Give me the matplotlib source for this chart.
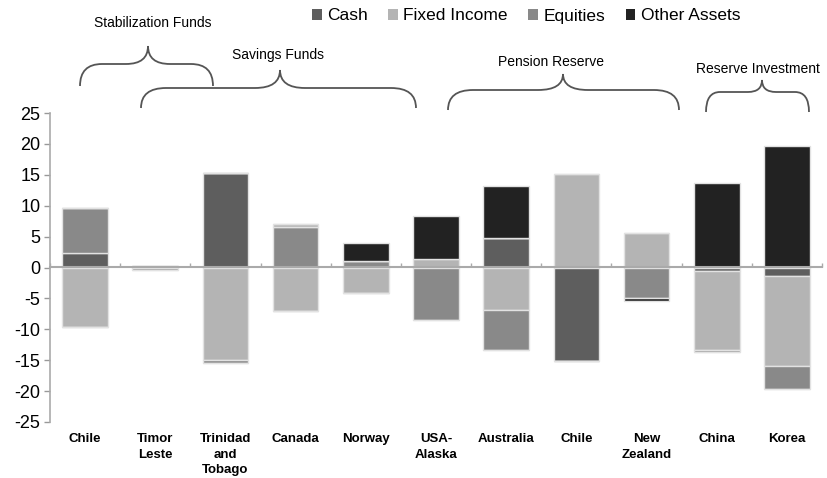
import matplotlib
matplotlib.use("Agg")
import matplotlib.pyplot as plt
import numpy as np
from matplotlib.patches import Patch, PathPatch
from matplotlib.path import Path

categories = ["Chile", "Timor\nLeste", "Trinidad\nand\nTobago", "Canada", "Norway",
              "USA-\nAlaska", "Australia", "Chile", "New\nZealand", "China", "Korea"]

# positive parts (stacked upward in order: Cash, Equities, Fixed Income, Other)
cash_pos     = [2.4, 0.2, 15.3, 0.0, 0.0, 0.0, 4.8, 0.0, 0.0, 0.0, 0.0]
equities_pos = [7.3, 0.0, 0.0, 6.5, 1.1, 0.0, 0.0, 0.0, 0.0, 0.0, 0.0]
fixed_pos    = [0.0, 0.0, 0.0, 0.5, 0.0, 1.3, 0.0, 15.2, 5.6, 0.0, 0.0]
other_pos    = [0.0, 0.0, 0.0, 0.0, 2.8, 7.1, 8.4, 0.0, 0.0, 13.6, 19.7]
# negative parts (stacked downward in order: Cash, Fixed Income, Equities, Other)
cash_neg     = [0.0, 0.0, 0.0, 0.0, 0.0, 0.0, 0.0, -15.2, 0.0, -0.5, -1.3]
fixed_neg    = [-9.7, 0.0, -14.9, -7.0, -4.1, 0.0, -6.9, 0.0, 0.0, -12.8, -14.6]
equities_neg = [0.0, -0.4, -0.5, 0.0, 0.0, -8.5, -6.4, 0.0, -5.0, -0.4, -3.8]
other_neg    = [0.0, 0.0, 0.0, 0.0, 0.0, 0.0, 0.0, 0.0, -0.5, 0.0, 0.0]

series_names = ["Cash", "Fixed Income", "Equities", "Other Assets"]
colors = {"Cash": "#5e5e5e", "Fixed Income": "#b4b4b4", "Equities": "#898989", "Other Assets": "#222222"}
yticks = [25, 20, 15, 10, 5, 0, -5, -10, -15, -20, -25]

group_labels = ["Stabilization Funds", "Savings Funds", "Pension Reserve", "Reserve Investment"]

W, H = 827, 478
fig = plt.figure(figsize=(W / 100, H / 100), dpi=100)
ax = fig.add_axes([50 / W, 1 - 422 / H, 772 / W, 309 / H])

x = np.arange(len(categories))
bw = 0.65
ec = "#e2e2e2"

bottom = np.zeros(len(x))
for name, vals in [("Cash", cash_pos), ("Equities", equities_pos),
                   ("Fixed Income", fixed_pos), ("Other Assets", other_pos)]:
    v = np.array(vals)
    ax.bar(x, v, bw, bottom=bottom, color=colors[name], edgecolor=ec, linewidth=1.0, zorder=2)
    bottom += v

bottom = np.zeros(len(x))
for name, vals in [("Cash", cash_neg), ("Fixed Income", fixed_neg),
                   ("Equities", equities_neg), ("Other Assets", other_neg)]:
    v = np.array(vals)
    ax.bar(x, v, bw, bottom=bottom, color=colors[name], edgecolor=ec, linewidth=1.0, zorder=2)
    bottom += v

ax.set_xlim(-0.5, len(x) - 0.5)
ax.set_ylim(-25, 25)
ax.set_yticks(yticks)
ax.set_yticklabels([str(t) for t in yticks], fontsize=13, family=["Liberation Sans", "DejaVu Sans"])
ax.tick_params(axis="y", length=4, color="#999999", width=1, pad=3)

for s in ["top", "right", "bottom"]:
    ax.spines[s].set_visible(False)
ax.spines["left"].set_color("#aaaaaa")
ax.spines["left"].set_linewidth(1.2)

ax.set_xticks(x)
ax.set_xticklabels(categories, fontsize=9.5, fontweight="bold",
                   family=["Liberation Sans", "DejaVu Sans"],
                   linespacing=1.4, va="top")
ax.tick_params(axis="x", length=0, pad=8)

# zero axis with boundary ticks
sec = ax.secondary_xaxis(0.5)
sec.set_xticks(np.arange(len(x) + 1) - 0.5)
sec.set_xticklabels([])
sec.tick_params(axis="x", length=3, color="#aaaaaa", width=1, direction="out")
for sp in sec.spines.values():
    sp.set_color("#aaaaaa")
    sp.set_linewidth(1.5)
sec.set_zorder(3)

# legend
narrow = ["Liberation Sans", "DejaVu Sans"]
handles = [Patch(facecolor=colors[n], edgecolor="none") for n in series_names]
fig.legend(handles, series_names, loc="center", bbox_to_anchor=(526 / W, 1 - 16 / H),
           ncol=4, frameon=False, handlelength=0.55, handleheight=0.55,
           handletextpad=0.3, columnspacing=1.2,
           prop={"family": narrow, "size": 12.5})

# group braces (figure pixel coordinates)
def brace(x0, x1, xc, yb, ym, yt, q):
    def P(px, py):
        return (px / W, 1 - py / H)
    verts = [P(x0, yb), P(x0, ym), P(x0 + q, ym), P(xc - q, ym), P(xc, ym), P(xc, yt),
             P(xc, ym), P(xc + q, ym), P(x1 - q, ym), P(x1, ym), P(x1, yb)]
    codes = [Path.MOVETO, Path.CURVE3, Path.CURVE3, Path.LINETO, Path.CURVE3, Path.CURVE3,
             Path.CURVE3, Path.CURVE3, Path.LINETO, Path.CURVE3, Path.CURVE3]
    patch = PathPatch(Path(verts, codes), transform=fig.transFigure, fill=False,
                      edgecolor="#555555", linewidth=1.3)
    fig.add_artist(patch)

brace(80, 213, 148, 86, 64, 46, 22)
brace(141, 416, 280, 108, 88, 70, 25)
brace(448, 679, 563, 110, 90, 74, 25)
brace(706, 809, 762, 112, 92, 80, 14)

for lbl, (tx, ty) in zip(group_labels, [(153, 23), (278, 55), (551, 62), (758, 69)]):
    fig.text(tx / W, 1 - ty / H, lbl, ha="center", va="center", fontsize=10, family=narrow)

fig.savefig("out.png", dpi=100, facecolor="white")
